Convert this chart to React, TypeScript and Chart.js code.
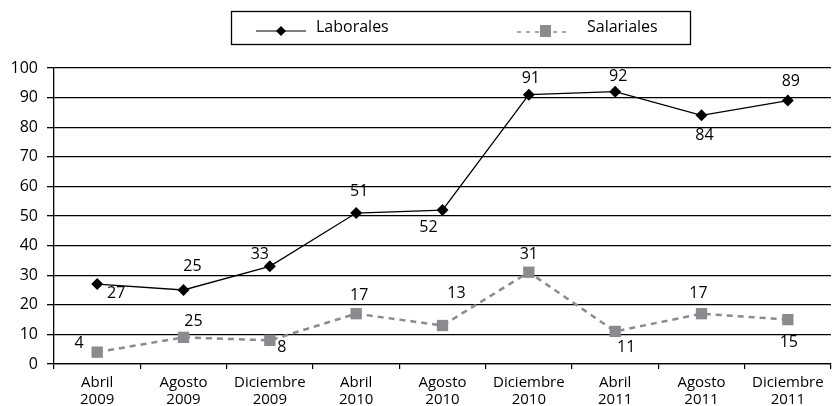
import React, { useEffect, useRef } from "react";
import { Chart, registerables } from "chart.js";

Chart.register(...registerables);

const categories: string[][] = [
  ["Abril", "2009"], ["Agosto", "2009"], ["Diciembre", "2009"],
  ["Abril", "2010"], ["Agosto", "2010"], ["Diciembre", "2010"],
  ["Abril", "2011"], ["Agosto", "2011"], ["Diciembre", "2011"],
];
const laborales = [27, 25, 33, 51, 52, 91, 92, 84, 89];
const salariales = [4, 9, 8, 17, 13, 31, 11, 17, 15];
const laboralesLabels = ["27", "25", "33", "51", "52", "91", "92", "84", "89"];
const salarialesLabels = ["4", "25", "8", "17", "13", "31", "11", "17", "15"];
const yTicks = [0, 10, 20, 30, 40, 50, 60, 70, 80, 90, 100];

// label placement offsets (px) relative to each point
const laboralesOffsets = [[19, 9], [9, -24], [-10, -12], [3, -22], [-14, 17], [2, -16], [3, -15], [3, 20], [3, -19]];
const salarialesOffsets = [[-18, -9], [10, -16], [12, 7], [3, -18], [14, -32], [0, -18], [11, 16], [-3, -20], [1, 23]];

const FONT = "'Open Sans', 'DejaVu Sans', sans-serif";
const GRAY = "#8a8a8f";

const labelPlugin = {
  id: "valueLabels",
  afterDatasetsDraw(chart: any) {
    const ctx = chart.ctx;
    ctx.save();
    ctx.font = `16px ${FONT}`;
    ctx.fillStyle = "#000";
    ctx.textAlign = "center";
    ctx.textBaseline = "middle";
    const sets = [
      { idx: 0, labels: laboralesLabels, offs: laboralesOffsets },
      { idx: 1, labels: salarialesLabels, offs: salarialesOffsets },
    ];
    sets.forEach((s) => {
      const meta = chart.getDatasetMeta(s.idx);
      meta.data.forEach((pt: any, i: number) => {
        ctx.fillText(s.labels[i], pt.x + s.offs[i][0], pt.y + s.offs[i][1]);
      });
    });
    ctx.restore();
  },
};

const legendPlugin = {
  id: "boxLegend",
  afterDraw(chart: any) {
    const ctx = chart.ctx;
    ctx.save();
    ctx.strokeStyle = "#000";
    ctx.lineWidth = 1.3;
    ctx.strokeRect(231.5, 11.5, 459, 33);
    const cy = 31;
    // Laborales
    ctx.beginPath();
    ctx.moveTo(256, cy);
    ctx.lineTo(306, cy);
    ctx.lineWidth = 1.2;
    ctx.stroke();
    ctx.fillStyle = "#000";
    ctx.beginPath();
    ctx.moveTo(281, cy - 5);
    ctx.lineTo(286, cy);
    ctx.lineTo(281, cy + 5);
    ctx.lineTo(276, cy);
    ctx.closePath();
    ctx.fill();
    // Salariales
    ctx.strokeStyle = GRAY;
    ctx.lineWidth = 1.5;
    ctx.setLineDash([4, 5]);
    ctx.beginPath();
    ctx.moveTo(517, cy + 1);
    ctx.lineTo(566, cy + 1);
    ctx.stroke();
    ctx.setLineDash([]);
    ctx.fillStyle = GRAY;
    ctx.fillRect(540, cy - 6, 11, 12);
    ctx.fillStyle = "#000";
    ctx.font = `16px ${FONT}`;
    ctx.textAlign = "left";
    ctx.textBaseline = "middle";
    ctx.fillText("Laborales", 316, 27);
    ctx.fillText("Salariales", 587, 27);
    ctx.restore();
  },
};

export default function App() {
  const ref = useRef<HTMLCanvasElement>(null);
  useEffect(() => {
    document.body.style.margin = "0";
    const chart = new Chart(ref.current!, {
      type: "line",
      data: {
        labels: categories,
        datasets: [
          {
            label: "Laborales",
            data: laborales,
            borderColor: "#000",
            backgroundColor: "#000",
            borderWidth: 1.3,
            pointStyle: "rectRot",
            pointRadius: 6,
            pointBorderWidth: 0,
            pointBackgroundColor: "#000",
            tension: 0,
          },
          {
            label: "Salariales",
            data: salariales,
            borderColor: GRAY,
            backgroundColor: GRAY,
            borderWidth: 2.5,
            borderDash: [6, 5],
            pointStyle: "rect",
            pointRadius: 8,
            pointBorderWidth: 0,
            pointBackgroundColor: GRAY,
            tension: 0,
          },
        ],
      },
      options: {
        animation: false,
        responsive: false,
        maintainAspectRatio: false,
        layout: { padding: { top: 68, right: 2, left: 0, bottom: 0 } },
        plugins: { legend: { display: false }, tooltip: { enabled: false } },
        scales: {
          x: {
            offset: true,
            grid: {
              offset: true,
              drawOnChartArea: false,
              drawTicks: true,
              tickLength: 5,
              color: "#000",
              lineWidth: 1.2,
            },
            border: { display: true, color: "#000", width: 1.3 },
            ticks: {
              color: "#000",
              font: { family: FONT, size: 15, lineHeight: 1.13 },
              padding: 5,
              maxRotation: 0,
              autoSkip: false,
            },
            afterFit: (s: any) => { s.height = 42; },
          },
          y: {
            min: 0,
            max: 100,
            afterBuildTicks: (s: any) => { s.ticks = yTicks.map((v) => ({ value: v })); },
            grid: {
              color: "#000",
              lineWidth: 1.3,
              drawTicks: true,
              tickLength: 7,
            },
            border: { display: true, color: "#000", width: 1.3 },
            ticks: {
              color: "#000",
              font: { family: FONT, size: 16 },
              padding: 9,
            },
            afterFit: (s: any) => { s.width = 54; },
          },
        },
      },
      plugins: [labelPlugin, legendPlugin],
    });
    return () => chart.destroy();
  }, []);
  return (
    <div style={{ width: 839, height: 406 }}>
      <canvas ref={ref} width={839} height={406} style={{ display: "block" }} />
    </div>
  );
}
